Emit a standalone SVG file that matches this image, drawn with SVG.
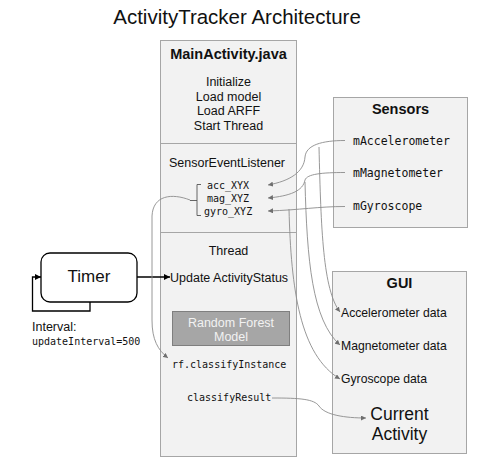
<svg xmlns="http://www.w3.org/2000/svg" width="502" height="468" viewBox="0 0 502 468">
<defs>
<style>
.sans{font-family:"Liberation Sans",Arial,sans-serif;fill:#111;}
.mono{font-family:"DejaVu Sans Mono","Liberation Mono",monospace;fill:#111;}
.box{fill:#f2f2f2;stroke:#a6a6a6;stroke-width:1;}
.div{stroke:#a6a6a6;stroke-width:1;fill:none;}
.conn{fill:none;stroke:#8c8c8c;stroke-width:0.9;}
.blk{fill:none;stroke:#000;stroke-width:1.3;}
.c{text-anchor:middle;}
.b{font-weight:bold;}
</style>
<marker id="ag" viewBox="0 0 10 10" refX="10" refY="5" markerWidth="5" markerHeight="5" markerUnits="userSpaceOnUse" orient="auto">
<path d="M0,0 L10,5 L0,10 z" fill="#6f6f6f"/>
</marker>
<marker id="ab" viewBox="0 0 10 10" refX="10" refY="5" markerWidth="6" markerHeight="6" markerUnits="userSpaceOnUse" orient="auto">
<path d="M0,0 L10,5 L0,10 z" fill="#000"/>
</marker>
</defs>
<rect width="502" height="468" fill="#fff"/>
<text class="sans c" x="237" y="24" font-size="20.5">ActivityTracker Architecture</text>

<g id="main">
<rect class="box" x="160.5" y="40.5" width="136" height="416"/>
<line class="div" x1="160.5" y1="143.5" x2="296.5" y2="143.5"/>
<line class="div" x1="160.5" y1="232.5" x2="296.5" y2="232.5"/>
<text class="sans c b" x="228.5" y="59" font-size="14.5">MainActivity.java</text>
<text class="sans c" x="228.5" y="86" font-size="12.5">Initialize</text>
<text class="sans c" x="228.5" y="100.5" font-size="12.5">Load model</text>
<text class="sans c" x="228.5" y="115" font-size="12.5">Load ARFF</text>
<text class="sans c" x="228.5" y="129.5" font-size="12.5">Start Thread</text>
<text class="sans c" x="227" y="167" font-size="12.5">SensorEventListener</text>
<text class="mono" x="207" y="188.5" font-size="10">acc_XYX</text>
<text class="mono" x="207" y="201.5" font-size="10">mag_XYZ</text>
<text class="mono" x="204" y="214.5" font-size="10">gyro_XYZ</text>
<path d="M201,184.5 H197 V215.5 H201 M197,200.5 H190" fill="none" stroke="#555" stroke-width="0.9"/>
<text class="sans c" x="228.5" y="255" font-size="12.5">Thread</text>
<text class="sans" x="170" y="281.5" font-size="12.5">Update ActivityStatus</text>
<rect x="172.5" y="311.5" width="117" height="34" fill="#a6a6a6" stroke="#7f7f7f" stroke-width="1"/>
<text class="sans c" x="231" y="326.5" font-size="12.5" style="fill:#f2f2f2">Random Forest</text>
<text class="sans c" x="231" y="341" font-size="12.5" style="fill:#f2f2f2">Model</text>
<text class="mono" x="172" y="367.5" font-size="10">rf.classifyInstance</text>
<text class="mono" x="187" y="401" font-size="10">classifyResult</text>
</g>

<g id="sensors">
<rect class="box" x="333.5" y="97.5" width="134" height="130"/>
<text class="sans c b" x="400.5" y="114" font-size="14.5">Sensors</text>
<text class="mono" x="353" y="145" font-size="11.5">mAccelerometer</text>
<text class="mono" x="353" y="177" font-size="11.5">mMagnetometer</text>
<text class="mono" x="353" y="210" font-size="11.5">mGyroscope</text>
</g>

<g id="gui">
<rect class="box" x="332.5" y="271.5" width="134" height="182"/>
<text class="sans c b" x="399.5" y="288" font-size="14.5">GUI</text>
<text class="sans" x="341" y="317" font-size="12.2">Accelerometer data</text>
<text class="sans" x="341" y="350" font-size="12.2">Magnetometer data</text>
<text class="sans" x="341" y="383" font-size="12.2">Gyroscope data</text>
<text class="sans c" x="399.5" y="420" font-size="17.5">Current</text>
<text class="sans c" x="399.5" y="440" font-size="17.5">Activity</text>
</g>

<g id="timer">
<rect x="41" y="253" width="96" height="49" rx="9" ry="9" fill="#fff" stroke="#000" stroke-width="1.3"/>
<text class="sans c" x="89" y="282" font-size="17">Timer</text>
<text class="sans" x="32" y="331" font-size="12.5">Interval:</text>
<text class="mono" x="32" y="344.5" font-size="10">updateInterval=500</text>
</g>

<g id="connectors">
<path class="blk" d="M90,302 V311 H32.5 V277 H41" marker-end="url(#ab)"/>
<path class="blk" d="M137,277 H170" marker-end="url(#ab)"/>
<path class="conn" d="M345,140.5 C322,140.5 306,145 305,157 C304,172 290,181 268,185" marker-end="url(#ag)"/>
<path class="conn" d="M345,172.5 C322,172.5 307,174 305,180 C303,191 290,196 268,198" marker-end="url(#ag)"/>
<path class="conn" d="M345,206.5 C318,206.5 300,210 268,211" marker-end="url(#ag)"/>
<path class="conn" d="M319,147 C321,230 323,290 340,312" marker-end="url(#ag)"/>
<path class="conn" d="M305,182 C307,260 312,320 340,345" marker-end="url(#ag)"/>
<path class="conn" d="M289,209 C291,290 300,355 340,379" marker-end="url(#ag)"/>
<path class="conn" d="M190,200 C172,193 153,195 152,216 L152,320 C152,340 158,350 168,358" marker-end="url(#ag)"/>
<path class="conn" d="M272,398 C300,398 314,399 319,406 C325,415 345,418 366,418" marker-end="url(#ag)"/>
</g>
</svg>
